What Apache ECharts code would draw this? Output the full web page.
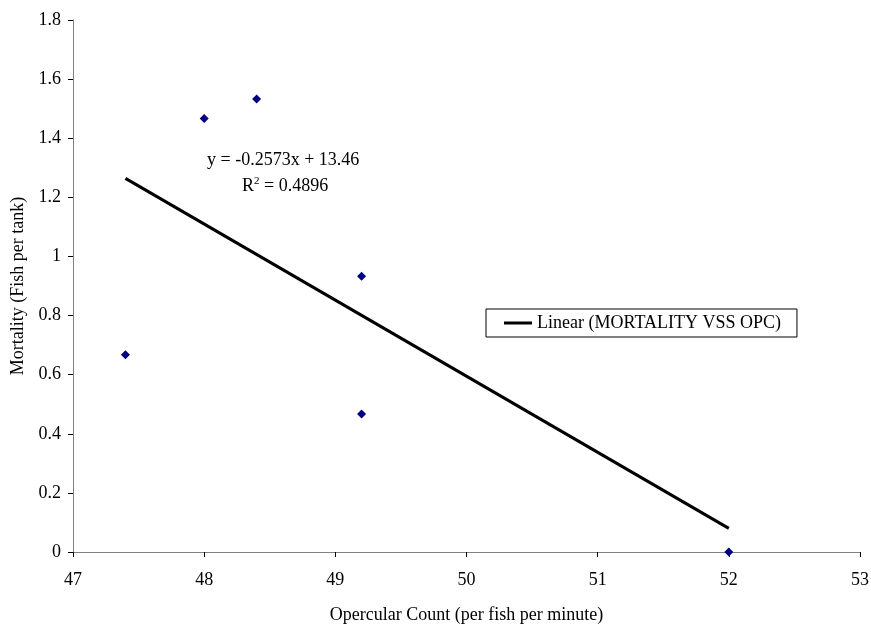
<!DOCTYPE html>
<html>
<head>
<meta charset="utf-8">
<script src="https://cdn.jsdelivr.net/npm/echarts@6/dist/echarts.min.js"></script>
<style>html,body{margin:0;padding:0;background:#fff}#c{width:871px;height:628px}</style>
</head>
<body>
<div id="c"></div>
<script>
var pointsX = [47.4, 48, 48.4, 49.2, 49.2, 52];
var pointsY = [0.667, 1.467, 1.533, 0.933, 0.467, 0];
var trendX = [47.4, 52];
var trendY = [1.264, 0.080];
var trendName = 'Linear (MORTALITY VSS OPC)';
var eqLine1 = 'y = -0.2573x + 13.46';
var eqLine2 = '0.4896';
var FONT = '"Liberation Serif", "Times New Roman", serif';

var chart = echarts.init(document.getElementById('c'));
chart.setOption({
  animation: false,
  textStyle: {fontFamily: FONT},
  grid: {left: 73, right: 11, top: 20, bottom: 76, containLabel: false, outerBoundsMode: 'none'},
  xAxis: {
    type: 'value', min: 47, max: 53, interval: 1,
    name: 'Opercular Count (per fish per minute)',
    nameLocation: 'middle', nameGap: 54,
    nameTextStyle: {fontFamily: FONT, fontSize: 18, color: '#000'},
    axisLine: {show: true, onZero: false, lineStyle: {color: '#808080', width: 1}},
    axisTick: {show: true, inside: false, length: 5, lineStyle: {color: '#000'}},
    axisLabel: {fontFamily: FONT, fontSize: 18, color: '#000', margin: 19},
    splitLine: {show: false}
  },
  yAxis: {
    type: 'value', min: 0, max: 1.8, interval: 0.2,
    name: 'Mortality (Fish per tank)',
    nameLocation: 'middle', nameGap: 46, nameRotate: 90,
    nameTextStyle: {fontFamily: FONT, fontSize: 18, color: '#000'},
    axisLine: {show: true, lineStyle: {color: '#808080', width: 1}},
    axisTick: {show: true, inside: false, length: 5, lineStyle: {color: '#000'}},
    axisLabel: {fontFamily: FONT, fontSize: 18, color: '#000', margin: 12,
      formatter: function(v){ return String(Math.round(v*10)/10); }},
    splitLine: {show: false}
  },
  legend: {
    data: [{name: trendName}],
    left: 486, top: 309,
    padding: [5, 16, 5, 18],
    borderColor: '#000', borderWidth: 1,
    itemWidth: 28, itemHeight: 3, itemGap: 6,
    icon: 'rect',
    textStyle: {fontFamily: FONT, fontSize: 18, color: '#000', padding: [0,0,0,0]}
  },
  series: [
    {
      name: 'MORTALITY VSS OPC', type: 'scatter',
      data: pointsX.map(function(x, i){ return [x, pointsY[i]]; }),
      symbol: 'diamond', symbolSize: 9,
      itemStyle: {color: '#000080', opacity: 1}
    },
    {
      name: trendName, type: 'line',
      data: trendX.map(function(x, i){ return [x, trendY[i]]; }),
      symbol: 'none', lineStyle: {color: '#000', width: 3},
      itemStyle: {color: '#000'}
    }
  ],
  graphic: [
    {type: 'text', left: 207, top: 151,
      style: {text: eqLine1, font: '18px ' + FONT, fill: '#000'}},
    {type: 'text', left: 242, top: 176,
      style: {text: '{r|R}{s|2}{r| = ' + eqLine2 + '}',
        rich: {r: {fontFamily: FONT, fontSize: 18, color: '#000', verticalAlign: 'bottom'},
               s: {fontFamily: FONT, fontSize: 11, color: '#000', verticalAlign: 'top', padding: [0,0,8,0]}},
        font: '18px ' + FONT}}
  ]
});
</script>
</body>
</html>
